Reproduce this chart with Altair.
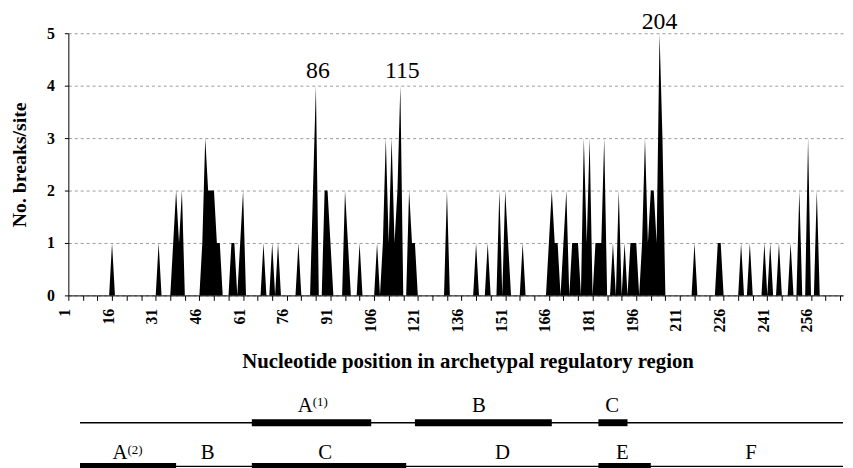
import altair as alt
import pandas as pd

SERIF = "Liberation Serif"

# ---- data ----
n_sites = 267
break_pos = [16, 32, 37, 38, 39, 40, 47, 48, 49, 50,
             51, 52, 53, 57, 58, 60, 61, 68, 71, 73,
             80, 85, 86, 89, 90, 91, 96, 97, 101, 107,
             109, 110, 111, 112, 113, 114, 115, 118, 119, 120,
             131, 141, 145, 149, 151, 152, 157, 166, 167, 168,
             169, 171, 172, 174, 175, 176, 178, 179, 180, 182,
             183, 184, 185, 188, 190, 192, 194, 195, 196, 198,
             199, 200, 201, 202, 203, 204, 205, 216, 224, 225,
             232, 235, 240, 242, 245, 249, 252, 255, 258]
break_cnt = [1, 1, 1, 2, 1, 2, 1, 3, 2, 2,
             2, 1, 1, 1, 1, 1, 2, 1, 1, 1,
             1, 2, 4, 2, 2, 1, 2, 1, 1, 1,
             1, 3, 1, 3, 1, 2, 4, 2, 1, 1,
             2, 1, 1, 2, 2, 1, 1, 1, 2, 1,
             1, 1, 2, 1, 1, 1, 3, 1, 3, 1,
             1, 1, 3, 1, 2, 1, 1, 1, 1, 1,
             3, 1, 2, 2, 1, 5, 3, 1, 1, 1,
             1, 1, 1, 1, 1, 1, 2, 3, 2]
assert len(break_pos) == len(break_cnt)

peak_pos = [86, 115, 204]
peak_val = [4, 4, 5]
peak_text = ["86", "115", "204"]

x_tick_values = list(range(1, 267, 5))
x_label_values = list(range(1, 267, 15))
y_tick_values = [0, 1, 2, 3, 4, 5]

# regulatory-region diagram (nucleotide coordinates)
line_start = [5, 5]
line_end = [267, 267]
line_row = [1, 2]

block_row = [1, 1, 1, 2, 2, 2]
block_start = [64, 120, 183, 5, 64, 183]
block_end = [105, 167, 193, 38, 117, 201]

label_row = [1, 1, 1, 2, 2, 2, 2, 2, 2]
label_pos = [84.9, 142.0, 187.7, 21.3, 48.8, 89.2, 150.1, 191.2, 235.4]
label_letter = ["A", "B", "C", "A", "B", "C", "D", "E", "F"]
label_sup = ["(1)", "", "", "(2)", "", "", "", "", ""]

# ---- tables ----
counts = dict(zip(break_pos, break_cnt))
sites = list(range(1, n_sites + 1))
df = pd.DataFrame({"pos": sites, "breaks": [counts.get(p, 0) for p in sites]})
peaks = pd.DataFrame({"pos": peak_pos, "val": peak_val, "txt": peak_text})
lines = pd.DataFrame({"row": line_row, "start": line_start, "end": line_end})
blocks = pd.DataFrame({"row": block_row, "start": block_start, "end": block_end})
labels = pd.DataFrame({"row": label_row, "pos": label_pos,
                       "letter": label_letter, "sup": label_sup})

W = 783
H = 265
xscale = alt.Scale(domain=[1, n_sites], nice=False, zero=False)
yscale = alt.Scale(domain=[0, 5], nice=False)

label_test = " || ".join(f"datum.value == {v}" for v in x_label_values)

x_axis = alt.Axis(
    values=x_tick_values, format="d",
    labelExpr=f"({label_test}) ? datum.label : ''",
    labelAngle=270, labelAlign="right", labelBaseline="middle",
    labelFont=SERIF, labelFontWeight="bold", labelFontSize=16,
    labelColor="black", labelPadding=8, labelOverlap=False, labelFlush=False,
    labelOffset=-4, labelSeparation=0,
    tickSize=5, tickColor="black", tickWidth=1,
    domainColor="black", domainWidth=1, grid=False,
    title="Nucleotide position in archetypal regulatory region",
    titleFont=SERIF, titleFontWeight="bold", titleFontSize=21,
    titleColor="black", titleAlign="center", titleBaseline="alphabetic",
    titleX=W / 2 + 12, titleY=73,
)
y_axis = alt.Axis(
    values=y_tick_values, format="d",
    labelFont=SERIF, labelFontWeight="bold", labelFontSize=16,
    labelColor="black", labelPadding=10, tickSize=4, tickColor="black",
    domainColor="black", domainWidth=1, labelOverlap=False,
    grid=True, gridColor="#9a9a9a", gridDash=[3, 3], gridWidth=1,
    title="No. breaks/site", titleFont=SERIF, titleFontWeight="bold",
    titleFontSize=20, titleColor="black", titleAngle=270,
    titleAlign="center", titleBaseline="alphabetic",
    titleX=-43, titleY=H / 2,
)

area = alt.Chart(df).mark_area(color="black", interpolate="linear", opacity=1).encode(
    x=alt.X("pos:Q", scale=xscale, axis=x_axis),
    y=alt.Y("breaks:Q", scale=yscale, axis=y_axis),
)
ann_base = alt.Chart(peaks).encode(
    x=alt.X("pos:Q", scale=xscale, axis=x_axis),
    y=alt.Y("val:Q", scale=yscale, axis=y_axis),
    text="txt:N",
)
ann_low = ann_base.transform_filter("datum.val < 5").mark_text(
    font=SERIF, fontSize=24, color="black", baseline="alphabetic", dy=-8, dx=2)
ann_top = ann_base.transform_filter("datum.val >= 5").mark_text(
    font=SERIF, fontSize=24, color="black", baseline="alphabetic", dy=-4)
main = alt.layer(area, ann_low, ann_top).properties(width=W, height=H)

dscale_y = alt.Scale(domain=[0.1, 2.05], reverse=True, nice=False, zero=False)
dx = alt.X("start:Q", scale=xscale, axis=None)
dy_enc = alt.Y("row:Q", scale=dscale_y, axis=None)
lab_x = alt.X("pos:Q", scale=xscale, axis=None)

thin = alt.Chart(lines).mark_rule(color="black", strokeWidth=1.3).encode(
    x=dx, x2="end:Q", y=dy_enc)
thick = alt.Chart(blocks).mark_rule(color="black", strokeWidth=7, strokeCap="butt").encode(
    x=dx, x2="end:Q", y=dy_enc)


def row_labels(row, dy):
    src = alt.Chart(labels).transform_filter(f"datum.row == {row}")
    plain = src.transform_filter("datum.sup == ''").mark_text(
        font=SERIF, fontSize=21, color="black", baseline="alphabetic",
        align="center", dy=dy
    ).encode(x=lab_x, y=dy_enc, text="letter:N")
    big = src.transform_filter("datum.sup != ''").mark_text(
        font=SERIF, fontSize=21, color="black", baseline="alphabetic",
        align="right", dy=dy
    ).encode(x=lab_x, y=dy_enc, text="letter:N")
    small = src.transform_filter("datum.sup != ''").mark_text(
        font=SERIF, fontSize=13, color="black", baseline="alphabetic",
        align="left", dy=dy - 6
    ).encode(x=lab_x, y=dy_enc, text="sup:N")
    return [plain, big, small]


diagram = alt.layer(thin, thick, *row_labels(1, -11), *row_labels(2, -7)).properties(
    width=W, height=86)

chart = alt.vconcat(main, diagram, spacing=12).properties(
    padding={"left": 2, "top": 0, "right": 0, "bottom": 0},
    background="white",
).configure_view(stroke=None)

chart.save("out.html", embed_options={"renderer": "svg", "actions": False})
